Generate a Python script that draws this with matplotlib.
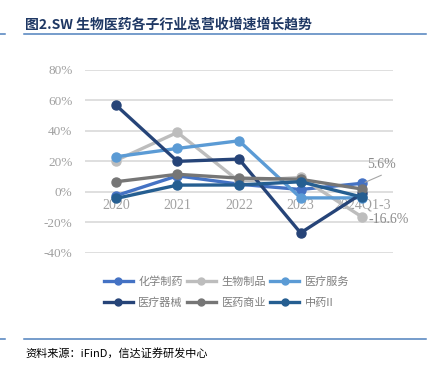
import matplotlib
matplotlib.use("Agg")
import matplotlib.pyplot as plt
from matplotlib.lines import Line2D
import matplotlib.transforms as mtrans

categories = ["2020", "2021", "2022", "2023", "2024Q1-3"]
chem = [-2.6, 10.5, 5.0, 1.5, 5.6]
bio = [20.5, 39.0, 7.0, 9.4, -16.6]
service = [23.0, 28.5, 33.5, -4.0, -4.0]
device = [57.0, 20.0, 21.5, -27.0, -1.0]
commerce = [6.6, 11.5, 9.0, 8.2, 1.8]
tcm = [-4.4, 4.4, 4.5, 6.6, -3.5]
series_names = ["化学制药", "生物制品", "医疗服务", "医疗器械", "医药商业", "中药II"]
series_vals = [chem, bio, service, device, commerce, tcm]
colors = ["#4472C4", "#BDBDBD", "#5B9BD5", "#264478", "#767676", "#255E91"]
yticks = [-40, -20, 0, 20, 40, 60, 80]

cjk = ["Noto Sans CJK SC", "DejaVu Sans"]
serif = ["Liberation Serif", "DejaVu Serif"]

fig = plt.figure(figsize=(4.28, 3.79), dpi=100)
ax = fig.add_axes([85/428, 1-252.7/379, 308/428, 182.7/379])

x = list(range(len(categories)))
for name, vals, c in zip(series_names, series_vals, colors):
    ax.plot(x, vals, color=c, lw=2.4, marker="o", markersize=6.5, label=name,
            solid_capstyle="round", zorder=3)

ax.set_xlim(-0.5, len(categories) - 0.5)
ax.set_ylim(-40, 80)
ax.set_yticks(yticks)
ax.set_yticklabels([f"{v}%" for v in yticks], fontfamily=serif, fontsize=9.5, color="#A0A0A0")
ax.yaxis.grid(True, color="#D9D9D9", lw=1.2)
ax.set_axisbelow(True)
for s in ["left", "right", "top"]:
    ax.spines[s].set_visible(False)
ax.spines["bottom"].set_position(("data", 0))
ax.spines["bottom"].set_color("none")
ax.set_xticks(x)
ax.set_xticklabels(categories, fontfamily=serif, fontsize=10, color="#A0A0A0")
ax.tick_params(axis="both", length=0)
ax.tick_params(axis="y", pad=9)
ax.tick_params(axis="x", pad=5)

# data labels
off = mtrans.offset_copy
fig.canvas.draw()
p = ax.transData.transform((4, chem[4]))
fig.add_artist(Line2D([p[0] + 3, p[0] + 19], [p[1] + 1, p[1] + 8], transform=None,
                      color="#A6A6A6", lw=0.8))
ax.text(4, chem[4], "5.6%", transform=off(ax.transData, fig=fig, x=19, y=19, units="dots"),
        ha="center", va="center", fontfamily=serif, fontsize=10, color="#8C8C8C")
ax.text(4, bio[4], "-16.6%", transform=off(ax.transData, fig=fig, x=6, y=-2, units="dots"),
        ha="left", va="center", fontfamily=serif, fontsize=10, color="#8C8C8C")

# legend (row-major order like reference)
handles = [Line2D([0], [0], color=c, lw=2.4, marker="o", markersize=5) for c in colors]
order = [0, 3, 1, 4, 2, 5]
fig.legend([handles[i] for i in order], [series_names[i] for i in order], ncol=3, loc="center",
           bbox_to_anchor=(226.5/428, 1-292/379),
           frameon=False, prop={"family": cjk, "size": 8}, labelcolor="#7F7F7F",
           handlelength=2.6, handletextpad=0.5, columnspacing=0.4, labelspacing=1.0,
           borderpad=0)

# title and decorations
fig.text(25/428, 1-25/379, "图2.SW 生物医药各子行业总营收增速增长趋势", fontfamily=cjk,
         fontsize=10, fontweight="bold", color="#1F3864", ha="left", va="center")
for yy in (34, 339):
    fig.add_artist(Line2D([24/428, 426/428], [1-yy/379, 1-yy/379], color="#4F81BD", lw=1.1))
    fig.add_artist(Line2D([0, 5/428], [1-yy/379, 1-yy/379], color="#4F81BD", lw=1.1))
fig.text(25/428, 1-353/379, "资料来源：iFinD，信达证券研发中心", fontfamily=cjk,
         fontsize=8, style="italic", color="#000000", ha="left", va="center")

fig.savefig("out.png", dpi=100)
